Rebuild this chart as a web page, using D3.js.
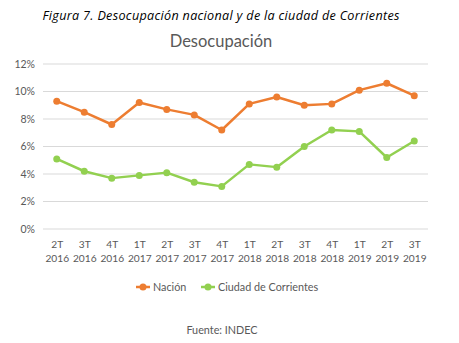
<!DOCTYPE html>
<html>
<head>
<meta charset="utf-8">
<script src="https://cdn.jsdelivr.net/npm/d3@7"></script>
<style>
  html, body { margin: 0; padding: 0; background: #fff; }
  svg { display: block; }
</style>
</head>
<body>
<svg id="chart" width="459" height="343"></svg>
<script>
// Quarters on the x axis (quarter, year)
const quarters = ["2T","3T","4T","1T","2T","3T","4T","1T","2T","3T","4T","1T","2T","3T"];
const years = ["2016","2016","2016","2017","2017","2017","2017","2018","2018","2018","2018","2019","2019","2019"];
// Unemployment rate, %
const nacion = [9.3, 8.5, 7.6, 9.2, 8.7, 8.3, 7.2, 9.1, 9.6, 9.0, 9.1, 10.1, 10.6, 9.7];
const corrientes = [5.1, 4.2, 3.7, 3.9, 4.1, 3.4, 3.1, 4.7, 4.5, 6.0, 7.2, 7.1, 5.2, 6.4];
const yTicks = [0, 2, 4, 6, 8, 10, 12];
const seriesNames = ["Nación", "Ciudad de Corrientes"];
const seriesColors = ["#ED7D31", "#92D050"];

const font = "Lato, 'Open Sans', sans-serif";
const svg = d3.select("#chart");

const plot = { left: 43, right: 428, top: 64, bottom: 229 };
const keys = quarters.map((q, i) => i);

const x = d3.scalePoint().domain(keys).range([plot.left, plot.right]).padding(0.5);
const y = d3.scaleLinear().domain([0, 12]).range([plot.bottom, plot.top]);

// Caption
svg.append("text")
  .attr("x", 221).attr("y", 20)
  .attr("text-anchor", "middle")
  .attr("font-family", "'Open Sans', sans-serif").attr("font-style", "italic")
  .attr("font-size", 12.6).attr("fill", "#000")
  .attr("textLength", 357).attr("lengthAdjust", "spacing")
  .text("Figura 7. Desocupación nacional y de la ciudad de Corrientes");

// Chart title
svg.append("text")
  .attr("x", 221).attr("y", 47)
  .attr("text-anchor", "middle")
  .attr("font-family", font).attr("font-size", 16.5).attr("fill", "#595959")
  .text("Desocupación");

// Horizontal gridlines
svg.append("g")
  .selectAll("line").data(yTicks).join("line")
  .attr("x1", plot.left).attr("x2", plot.right)
  .attr("y1", d => y(d)).attr("y2", d => y(d))
  .attr("stroke", "#d9d9d9").attr("stroke-width", 1);

// Y axis labels
const yAxis = d3.axisLeft(y).tickValues(yTicks).tickFormat(d => d + "%").tickSize(0).tickPadding(8);
svg.append("g")
  .attr("transform", `translate(${plot.left},0)`)
  .call(yAxis)
  .call(g => g.select(".domain").remove())
  .call(g => g.selectAll("text")
    .attr("font-family", font).attr("font-size", 10.5).attr("fill", "#595959"));

// X axis labels (two lines)
const xAxis = d3.axisBottom(x).tickSize(0).tickFormat(() => "");
const xg = svg.append("g")
  .attr("transform", `translate(0,${plot.bottom})`)
  .call(xAxis)
  .call(g => g.select(".domain").remove());
xg.selectAll(".tick").each(function(i) {
  const t = d3.select(this).select("text")
    .attr("font-family", font).attr("font-size", 10.2).attr("fill", "#595959")
    .attr("y", 0).attr("dy", null);
  t.append("tspan").attr("x", 0).attr("y", 19).text(quarters[i]);
  t.append("tspan").attr("x", 0).attr("y", 33).text(years[i]);
});

// Series lines and markers
const series = [nacion, corrientes];
const line = d3.line().x((d, i) => x(i)).y(d => y(d));
series.forEach((vals, s) => {
  svg.append("path")
    .datum(vals)
    .attr("d", line)
    .attr("fill", "none")
    .attr("stroke", seriesColors[s])
    .attr("stroke-width", 2.5)
    .attr("stroke-linejoin", "round");
  svg.append("g")
    .selectAll("circle").data(vals).join("circle")
    .attr("cx", (d, i) => x(i)).attr("cy", d => y(d))
    .attr("r", 3.5)
    .attr("fill", seriesColors[s]);
});

// Legend
const legendItems = [{ x: 136 }, { x: 201 }];
const lg = svg.append("g").attr("transform", "translate(0,287)");
legendItems.forEach((item, s) => {
  const g = lg.append("g").attr("transform", `translate(${item.x},0)`);
  g.append("line").attr("x1", 0).attr("x2", 14).attr("y1", 0).attr("y2", 0)
    .attr("stroke", seriesColors[s]).attr("stroke-width", 2.5);
  g.append("circle").attr("cx", 7).attr("cy", 0).attr("r", 3.5).attr("fill", seriesColors[s]);
  g.append("text").attr("x", 17).attr("y", 3.8)
    .attr("font-family", font).attr("font-size", 10.8).attr("fill", "#595959")
    .text(seriesNames[s]);
});

// Source
svg.append("text")
  .attr("x", 222).attr("y", 334)
  .attr("text-anchor", "middle")
  .attr("font-family", font).attr("font-size", 10.8).attr("fill", "#595959")
  .text("Fuente: INDEC");
</script>
</body>
</html>
